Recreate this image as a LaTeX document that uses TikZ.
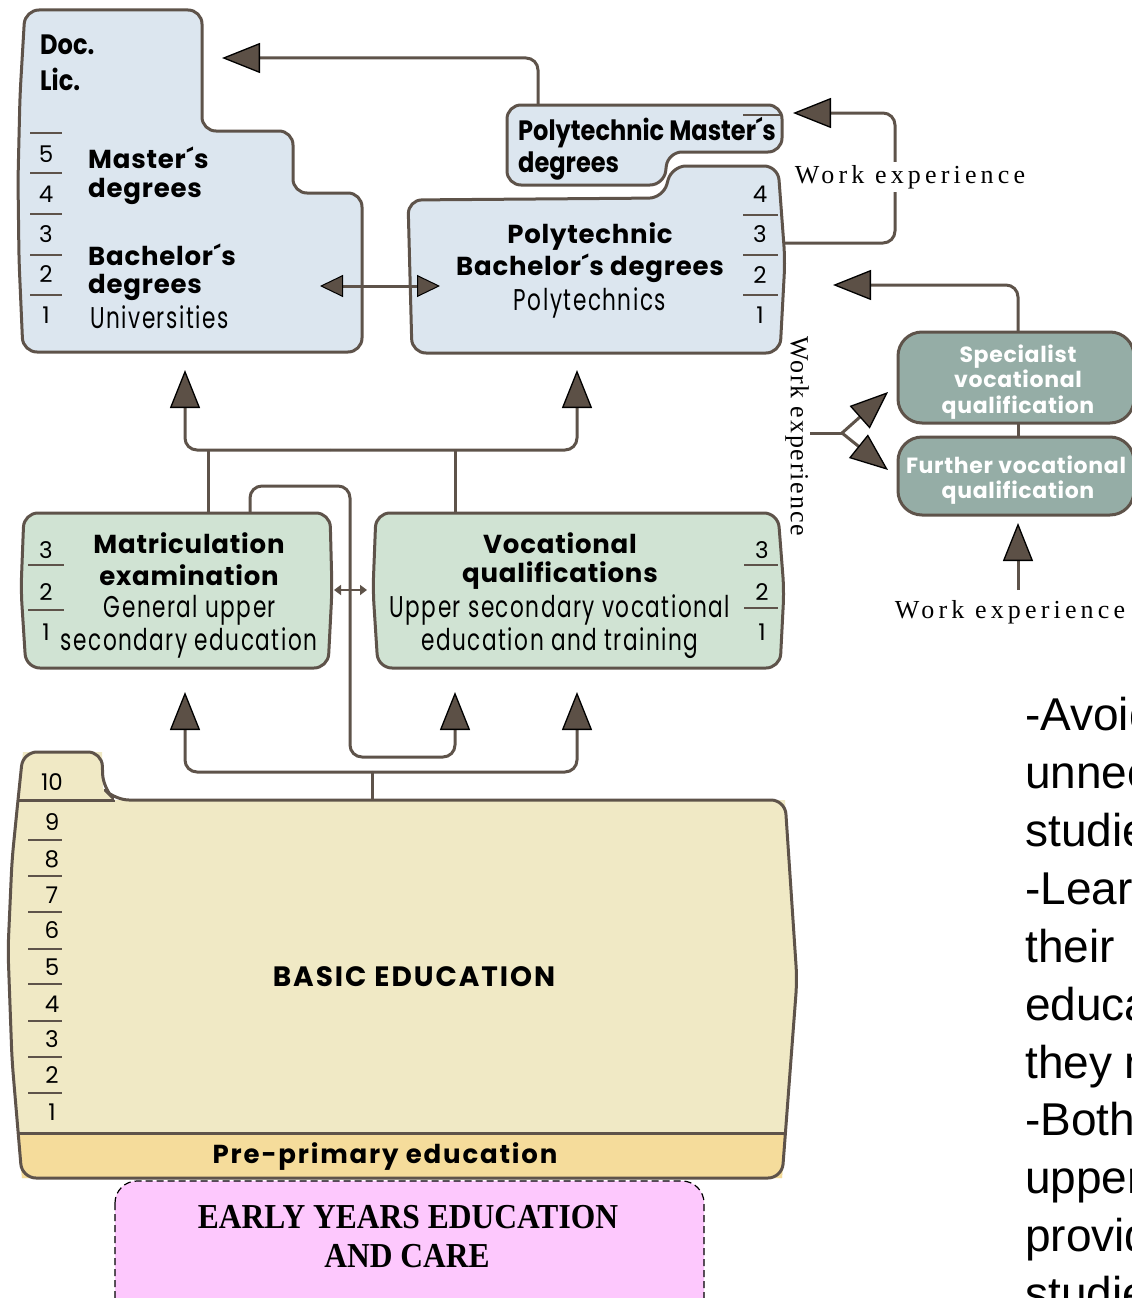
\documentclass[tikz,border=0pt]{standalone}
\usepackage{fontspec}
\setmainfont{Poppins}
\newfontfamily\futc[FakeStretch=0.72,LetterSpace=5]{Poppins}
\newfontfamily\futcb[FakeStretch=0.86]{Poppins}
\newfontfamily\spf[LetterSpace=3]{Poppins}
\newfontfamily\ltr[LetterSpace=7]{Poppins}
\newfontfamily\wexp[LetterSpace=16]{Liberation Serif}
\newfontfamily\wexpv[LetterSpace=7]{Liberation Serif}
\newfontfamily\tms[FakeStretch=0.9]{Liberation Serif}
\newfontfamily\arl{Liberation Sans}
\usetikzlibrary{arrows.meta}
\definecolor{stk}{HTML}{5E534A}
\definecolor{afill}{HTML}{5C5046}
\definecolor{blu}{HTML}{DCE6EF}
\definecolor{grn}{HTML}{D0E3D3}
\definecolor{tea}{HTML}{95ADA6}
\definecolor{cre}{HTML}{F0E9C5}
\definecolor{yel}{HTML}{F5DC9B}
\definecolor{pnk}{HTML}{FDC8FD}
\newcommand\bepath{(22,1178) -- (12,1060) -- (8,950) -- (12,860) -- (18,800) -- (23,752) -- (102,752) -- (103,788) -- (115,800) -- (785,800) -- (797,980) -- (782,1178) -- cycle}
\tikzset{
  outl/.style={draw=stk, line width=3pt, rounded corners=14pt, line join=round},
  conn/.style={draw=stk, line width=3pt, rounded corners=12pt},
  bigarr/.style={conn, -{Triangle[length=38pt,width=30pt,fill=afill,color=black,line width=1.3pt]}},
  midarr/.style={conn, {Triangle[length=23pt,width=22pt,fill=afill,color=black,line width=1pt]}-{Triangle[length=23pt,width=22pt,fill=afill,color=black,line width=1pt]}},
  tinyarr/.style={draw=stk, line width=2pt, {Triangle[length=7pt,width=10pt,fill=afill,color=stk]}-{Triangle[length=7pt,width=10pt,fill=afill,color=stk]}},
  tick/.style={draw=stk, line width=2pt},
  numf/.style={font=\fontsize{23}{24}\selectfont, inner sep=0pt, anchor=base},
  bt/.style={font=\spf\bfseries\fontsize{26}{30}\selectfont, inner sep=0pt, anchor=base},
  btw/.style={bt, anchor=base west},
  ct/.style={font=\futc\fontsize{30}{32}\selectfont, inner sep=0pt, anchor=base},
  cbt/.style={font=\futcb\bfseries\fontsize{28}{30}\selectfont, inner sep=0pt, anchor=base west},
  st/.style={font=\spf\bfseries\fontsize{22}{26}\selectfont, text=white, inner sep=0pt, anchor=base},
  wt/.style={font=\wexp\fontsize{26}{28}\selectfont, inner sep=0pt, anchor=base},
  et/.style={font=\tms\bfseries\fontsize{35}{40}\selectfont, inner sep=0pt, anchor=base},
  rt/.style={font=\arl\fontsize{46}{50}\selectfont, inner sep=0pt, anchor=base west},
}
\begin{document}
\begin{tikzpicture}[x=1pt,y=-1pt]
\useasboundingbox (0,0) rectangle (1132,1298);
\clip (0,0) rectangle (1132,1298);

% ---------- boxes ----------
\path[outl, fill=blu] (23,352) -- (19,260) -- (18,180) -- (20,95) -- (25,10) -- (202,10) -- (202,131) -- (293,131) -- (293,193) -- (362,193) -- (362,352) -- cycle;
\path[outl, fill=blu] (507,105) -- (782,105) -- (782,152) -- (668,152) -- (664,185) -- (507,185) -- cycle;
\path[outl, fill=blu] (408,200) -- (663,198) -- (672,166) -- (778,166) -- (785,260) -- (780,353) -- (412,353) -- cycle;
\path[outl, fill=grn] (24,513) -- (330,513) -- (332,590) -- (328,668) -- (26,668) -- (21,590) -- cycle;
\path[outl, fill=grn] (376,513) -- (778,513) -- (784,590) -- (780,668) -- (378,668) -- (373,590) -- cycle;
\path[outl, rounded corners=24pt, fill=tea] (898,332) rectangle (1134,423);
\path[outl, rounded corners=24pt, fill=tea] (898,437) rectangle (1134,515);

% basic education
\fill[cre] \bepath;
\begin{scope}
  \clip \bepath;
  \fill[yel] (0,1133) rectangle (820,1200);
  \draw[stk, line width=3pt] (0,1133) -- (820,1133);
  \draw[stk, line width=3pt] (0,800) -- (115,800);
\end{scope}
\path[outl] \bepath;

% early years
\path[draw=black, line width=1.2pt, dash pattern=on 7pt off 4pt, rounded corners=22pt, fill=pnk] (115,1181) rectangle (704,1340);

% ---------- coordinates ----------
\coordinate (pmTop) at (538,105);
\coordinate (uniTip) at (222,58);
\coordinate (uniR) at (320,286);
\coordinate (polyL) at (440,286);
\coordinate (pbR) at (785,243);
\coordinate (pmTip) at (793,113);
\coordinate (spTop) at (1018,332);
\coordinate (pbTip) at (833,285);
\coordinate (brA) at (810,433);
\coordinate (brB) at (842,433);
\coordinate (spTip) at (888,392);
\coordinate (fuTip) at (888,470);
\coordinate (spBot) at (1018,423);
\coordinate (fuTop) at (1018,437);
\coordinate (weBot) at (1018,590);
\coordinate (fuTip2) at (1018,523);
\coordinate (mj) at (330,450);
\coordinate (uniUp) at (185,370);
\coordinate (polyUp) at (577,370);
\coordinate (maTopA) at (208,513);
\coordinate (maTopB) at (250,513);
\coordinate (voTop) at (455,513);
\coordinate (bj) at (372,772);
\coordinate (beTop) at (372,800);
\coordinate (maUp) at (185,692);
\coordinate (voUpA) at (455,692);
\coordinate (voUpB) at (577,692);
\coordinate (maR) at (334,590);
\coordinate (voL) at (367,590);

% ---------- connectors ----------
\draw[bigarr] (pmTop) |- (uniTip);
\draw[midarr] (uniR) -- (polyL);
\draw[bigarr] (pbR) -- (895,243) -- (895,113) -- (pmTip);
\draw[bigarr] (spTop) |- (pbTip);
\draw[conn] (brA) -- (brB);
\draw[bigarr] (brB) -- (spTip);
\draw[bigarr] (brB) -- (fuTip);
\draw[conn] (spBot) -- (fuTop);
\draw[bigarr] (weBot) -- (fuTip2);
\draw[bigarr] (mj) -| (uniUp);
\draw[bigarr] (mj) -| (polyUp);
\draw[conn] (maTopA) -- (208,450);
\draw[conn] (voTop) -- (455,450);
\draw[bigarr] (maTopB) -- (250,486) -- (350,486) -- (350,757) -- (455,757) -- (voUpA);
\draw[conn] (beTop) -- (bj);
\draw[bigarr] (bj) -| (maUp);
\draw[bigarr] (bj) -| (voUpB);
\draw[tinyarr] (maR) -- (voL);

% ---------- ticks and numbers ----------
\foreach \y in {133,173,214,255,295} \draw[tick] (30,\y) -- (62,\y);
\foreach \n/\y in {5/162,4/202,3/242,2/282,1/323} \node[numf] (u\n) at (46,\y) {\n};
\draw[tick] (743,115) -- (780,115);
\foreach \y in {215,255,295} \draw[tick] (743,\y) -- (778,\y);
\foreach \n/\y in {4/202,3/242,2/283,1/323} \node[numf] (p\n) at (760,\y) {\n};
\foreach \y in {565,610} \draw[tick] (28,\y) -- (64,\y);
\foreach \n/\y in {3/558,2/600,1/640} \node[numf] (m\n) at (46,\y) {\n};
\foreach \y in {565,608} \draw[tick] (744,\y) -- (778,\y);
\foreach \n/\y in {3/558,2/600,1/640} \node[numf] (v\n) at (762,\y) {\n};
\foreach \y in {840,876,912,949,984,1021,1057,1093} \draw[tick] (28,\y) -- (62,\y);
\foreach \n/\y in {10/790,9/830,8/867,7/903,6/938,5/975,4/1012,3/1047,2/1083,1/1120} \node[numf] (b\n) at (52,\y) {\n};

% ---------- texts ----------
\node[cbt] (doc) at (40,55) {Doc.};
\node[cbt] (lic) at (40,90) {Lic.};
\node[btw] (mas) at (88,168) {Master´s};
\node[btw] (deg1) at (88,197) {degrees};
\node[btw] (bach) at (88,265) {Bachelor´s};
\node[btw] (deg2) at (88,293) {degrees};
\node[ct, anchor=base west] (univ) at (90,328) {Universities};

\node[cbt] (pm1) at (518,140) {Polytechnic Master´s};
\node[cbt] (pm2) at (518,172) {degrees};
\node[bt] (pb1) at (590,243) {Polytechnic};
\node[bt] (pb2) at (590,275) {Bachelor´s degrees};
\node[ct] (pb3) at (590,310) {Polytechnics};

\node[bt] (ma1) at (189,553) {Matriculation};
\node[bt] (ma2) at (189,585) {examination};
\node[ct] (ma3) at (190,617) {General upper};
\node[ct] (ma4) at (189,650) {secondary education};

\node[bt] (vo1) at (560,553) {Vocational};
\node[bt] (vo2) at (560,582) {qualifications};
\node[ct] (vo3) at (560,617) {Upper secondary vocational};
\node[ct] (vo4) at (560,650) {education and training};

\node[st] (s1) at (1018,362) {Specialist};
\node[st] (s2) at (1018,387) {vocational};
\node[st] (s3) at (1018,413) {qualification};
\node[st] (f1) at (1016,473) {Further vocational};
\node[st] (f2) at (1018,498) {qualification};

\node[wt, fill=white, inner sep=3pt] (we1) at (910,183) {Work experience};
\node[font=\wexpv\fontsize{26}{28}\selectfont, inner sep=0pt, rotate=-90] (we2) at (797,436) {Work experience};
\node[wt] (we3) at (1010,618) {Work experience};

\node[font=\ltr\bfseries\fontsize{28}{30}\selectfont, inner sep=0pt, anchor=base] (be) at (414,986) {BASIC EDUCATION};
\node[font=\ltr\bfseries\fontsize{26}{30}\selectfont, inner sep=0pt, anchor=base] (pp) at (385,1163) {Pre-primary education};
\node[et] (ey1) at (408,1228) {EARLY YEARS EDUCATION};
\node[et] (ey2) at (407,1267) {AND CARE};

\node[rt] (r1) at (1025,730) {-Avoiding};
\node[rt] (r2) at (1025,788) {unnecessary};
\node[rt] (r3) at (1025,846) {studies};
\node[rt] (r4) at (1025,904) {-Learners};
\node[rt] (r5) at (1025,962) {their};
\node[rt] (r6) at (1025,1020) {education};
\node[rt] (r7) at (1025,1078) {they need};
\node[rt] (r8) at (1025,1135) {-Both};
\node[rt] (r9) at (1025,1193) {upper};
\node[rt] (r10) at (1025,1251) {provide};
\node[rt] (r11) at (1025,1309) {studies};
\end{tikzpicture}
\end{document}
